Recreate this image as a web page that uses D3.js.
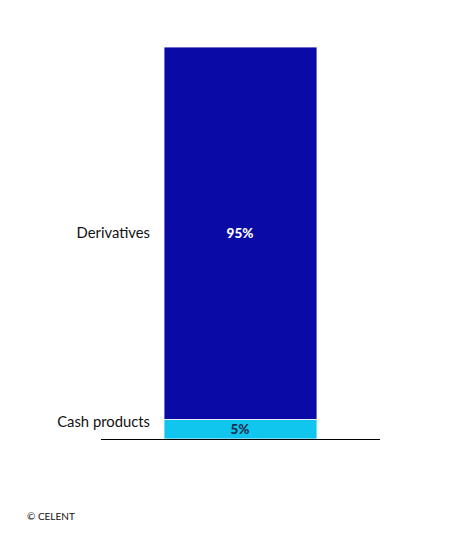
<!DOCTYPE html>
<html><head><meta charset="utf-8">
<script src="https://cdn.jsdelivr.net/npm/d3@7"></script>
<style>body{margin:0;background:#fff}svg{display:block}text{font-family:Lato,"Open Sans",sans-serif}</style>
</head><body>
<script>
const categories = ["Cash products", "Derivatives"];
const values = [5, 95];
const valueLabels = ["5%", "95%"];
const colors = ["#10C6EE", "#0A0AA6"];
const labelColors = ["#1B2E4D", "#FFFFFF"];

const W = 463, H = 538;
const svg = d3.select("body").append("svg").attr("width", W).attr("height", H);

const y = d3.scaleLinear().domain([0, 100]).range([439, 47]);

let cum = 0;
const stacks = values.map((v, i) => { const s = {cat: categories[i], v, y0: cum, y1: cum + v, i}; cum += v; return s; });

svg.selectAll("rect.seg").data(stacks).enter().append("rect")
  .attr("x", 164).attr("width", 153)
  .attr("y", d => y(d.y1))
  .attr("height", d => y(d.y0) - y(d.y1))
  .attr("fill", d => colors[d.i])
  .attr("stroke", "#fff").attr("stroke-width", 0.8);

svg.selectAll("text.val").data(stacks).enter().append("text")
  .attr("x", 240).attr("y", d => (y(d.y0) + y(d.y1)) / 2)
  .attr("dy", "0.35em").attr("text-anchor", "middle")
  .attr("font-size", 13.5).attr("font-weight", 900)
  .attr("fill", d => labelColors[d.i]).text(d => valueLabels[d.i]);

svg.selectAll("text.cat").data(stacks).enter().append("text")
  .attr("x", 150).attr("y", d => d.i === 0 ? 422 : (y(d.y0) + y(d.y1)) / 2)
  .attr("dy", "0.35em").attr("text-anchor", "end")
  .attr("font-size", 14.8).attr("fill", "#111").text(d => d.cat);

svg.append("line").attr("x1", 101).attr("x2", 380).attr("y1", 439.5).attr("y2", 439.5)
  .attr("stroke", "#000").attr("stroke-width", 1);

svg.append("text").attr("x", 27).attr("y", 520).attr("font-size", 10).attr("fill", "#111").text("© CELENT");
</script>
</body></html>
